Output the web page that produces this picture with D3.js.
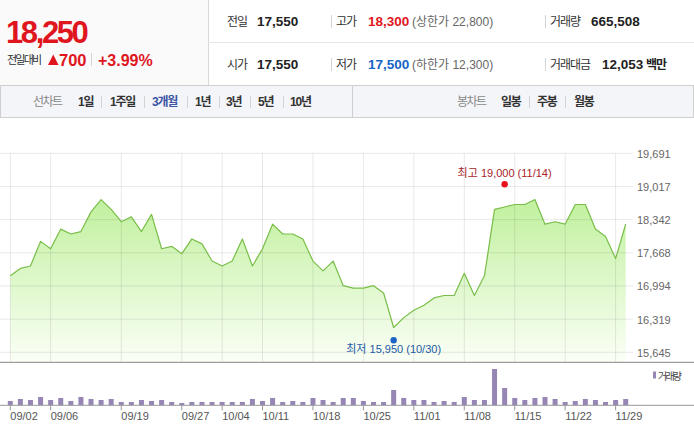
<!DOCTYPE html>
<html>
<head>
<meta charset="utf-8">
<script src="https://cdn.jsdelivr.net/npm/d3@7"></script>
<style>
  body { margin: 0; background: #fff; }
  svg { display: block; font-family: "Liberation Sans", "Noto Sans CJK KR", sans-serif; }
</style>
</head>
<body>
<div id="chart"></div>
<script>
// trading days shown on the 3 month chart
const DATES = [
  "09/02","09/03","09/04","09/05","09/06","09/09","09/10","09/11","09/16","09/17",
  "09/18","09/19","09/20","09/23","09/24","09/25","09/26","09/27","09/30","10/01",
  "10/02","10/04","10/07","10/08","10/10","10/11","10/14","10/15","10/16","10/17",
  "10/18","10/21","10/22","10/23","10/24","10/25","10/28","10/29","10/30","10/31",
  "11/01","11/04","11/05","11/06","11/07","11/08","11/11","11/12","11/13","11/14",
  "11/15","11/18","11/19","11/20","11/21","11/22","11/25","11/26","11/27","11/28",
  "11/29","12/02"
];

// closing prices
const CLOSES = [
  17200,17350,17400,17900,17750,18150,18050,18100,18500,18750,
  18550,18300,18400,18100,18450,17750,17800,17650,17950,17850,
  17500,17400,17500,17950,17400,17750,18250,18050,18050,17950,
  17500,17300,17500,17000,16950,16950,17000,16850,16150,16350,
  16500,16600,16750,16800,16800,17250,16800,17200,18550,18600,
  18650,18650,18750,18250,18300,18250,18650,18650,18150,18000,
  17550,18250
];

// daily volume
const VOLUMES = [
  452100,664800,561300,874200,558900,770500,455600,878300,667200,559400,
  663100,349800,346200,562700,451900,557800,347300,243600,350900,348100,
  345700,349200,347600,351800,662500,453300,772800,346400,454700,349100,
  769900,561200,347800,771600,768400,452900,349300,346800,1614200,773400,
  558700,562100,348200,454100,350600,876300,560400,557200,3831500,1826700,
  771900,559300,770200,877600,664300,348700,452600,668100,561800,347400,
  559900,665508
];

const Y_TICKS = [15645, 16319, 16994, 17668, 18342, 19017, 19691];
const X_TICKS = ["09/02","09/06","09/19","09/27","10/04","10/11","10/18","10/25","11/01","11/08","11/15","11/22","11/29"];

// period high / low
const HIGH = { label: "최고", value: 19000, date: "11/14" };
const LOW = { label: "최저", value: 15950, date: "10/30" };

// quote header
const PRICE = "18,250";
const CHANGE = "700";
const CHANGE_PCT = "+3.99%";
const ROW1 = [
  { label: "전일", value: "17,550", color: "#222" },
  { label: "고가", value: "18,300", color: "#e0161e", note: "(상한가 22,800)" },
  { label: "거래량", value: "665,508", color: "#222" }
];
const ROW2 = [
  { label: "시가", value: "17,550", color: "#222" },
  { label: "저가", value: "17,500", color: "#1564c6", note: "(하한가 12,300)" },
  { label: "거래대금", value: "12,053", color: "#222", unit: "백만" }
];
const LINE_MENU = ["1일", "1주일", "3개월", "1년", "3년", "5년", "10년"];
const CANDLE_MENU = ["일봉", "주봉", "월봉"];

const W = 694, H = 439;
const RED = "#e0161e";

const svg = d3.select("#chart").append("svg").attr("width", W).attr("height", H);

// ---------- header ----------
svg.append("rect").attr("x", 0).attr("y", 0).attr("width", 208).attr("height", 85).attr("fill", "#fafafa");
svg.append("line").attr("x1", 208.5).attr("x2", 208.5).attr("y1", 0).attr("y2", 85).attr("stroke", "#d9d9d9");
svg.append("line").attr("x1", 208).attr("x2", W).attr("y1", 42.5).attr("y2", 42.5).attr("stroke", "#e6e6e6");

svg.append("text").attr("x", 6).attr("y", 43)
  .attr("font-size", 31).attr("font-weight", "bold").attr("letter-spacing", -2.4)
  .attr("fill", RED).text(PRICE);

svg.append("text").attr("x", 7).attr("y", 64).attr("font-size", 11).attr("letter-spacing", -1.8)
  .attr("fill", "#333").text("전일대비");
svg.append("path").attr("d", "M48,65 L58.5,65 L53.25,54.5 Z").attr("fill", RED);
svg.append("text").attr("x", 59).attr("y", 65.5).attr("font-size", 16.5).attr("font-weight", "bold")
  .attr("fill", RED).text(CHANGE);
svg.append("line").attr("x1", 91.5).attr("x2", 91.5).attr("y1", 53).attr("y2", 66).attr("stroke", "#d5d5d5");
svg.append("text").attr("x", 98).attr("y", 65.5).attr("font-size", 16).attr("font-weight", "bold")
  .attr("fill", RED).text(CHANGE_PCT);

const colX = [227, 336, 550];
const valX = [257, 368, 591];
function drawRow(row, baseline) {
  row.forEach(function (d, i) {
    if (i > 0) {
      const sx = i === 1 ? 331 : 545;
      svg.append("line").attr("x1", sx + 0.5).attr("x2", sx + 0.5)
        .attr("y1", baseline - 11).attr("y2", baseline + 2).attr("stroke", "#d5d5d5");
    }
    svg.append("text").attr("x", colX[i]).attr("y", baseline).attr("font-size", 12)
      .attr("letter-spacing", -1).attr("fill", "#333").text(d.label);
    const vx = d.unit ? 602 : valX[i];
    svg.append("text").attr("x", vx).attr("y", baseline).attr("font-size", 13.5)
      .attr("font-weight", "bold").attr("fill", d.color).text(d.value);
    if (d.note) {
      svg.append("text").attr("x", 412).attr("y", baseline).attr("font-size", 12)
        .attr("fill", "#666").text(d.note);
    }
    if (d.unit) {
      svg.append("text").attr("x", 646).attr("y", baseline).attr("font-size", 12)
        .attr("font-weight", "bold").attr("letter-spacing", -1).attr("fill", "#222").text(d.unit);
    }
  });
}
drawRow(ROW1, 26);
drawRow(ROW2, 69);

// ---------- period menu bar ----------
svg.append("rect").attr("x", 0.5).attr("y", 85.5).attr("width", W - 1).attr("height", 32)
  .attr("fill", "#f4f5f8").attr("stroke", "#cfcfcf");
svg.append("line").attr("x1", 352.5).attr("x2", 352.5).attr("y1", 86).attr("y2", 117).attr("stroke", "#cfcfcf");

function drawMenu(title, titleX, items, itemX, sepX, active) {
  svg.append("text").attr("x", titleX).attr("y", 106).attr("font-size", 12)
    .attr("letter-spacing", -1.5).attr("fill", "#888").text(title);
  items.forEach(function (t, i) {
    svg.append("text").attr("x", itemX[i]).attr("y", 106).attr("font-size", 12)
      .attr("font-weight", "bold").attr("letter-spacing", -1.2)
      .attr("fill", t === active ? "#3b55a3" : "#333").text(t);
  });
  sepX.forEach(function (x) {
    svg.append("line").attr("x1", x + 0.5).attr("x2", x + 0.5).attr("y1", 96).attr("y2", 108)
      .attr("stroke", "#d3d3d3");
  });
}
drawMenu("선차트", 33, LINE_MENU, [78, 110, 152, 195, 226, 258, 290], [101, 144, 187, 219, 250, 283], "3개월");
drawMenu("봉차트", 457, CANDLE_MENU, [501, 537, 574], [529, 565], null);

// ---------- price chart ----------
const x = d3.scalePoint().domain(DATES).range([10.3, 625.7]);
const y = d3.scaleLinear().domain([15645, 19691]).range([352.3, 153.3]);
const vol = d3.scaleLinear().domain([0, 4540000]).range([405.3, 362.3]);
const plotBottom = 362.3;

const defs = svg.append("defs");
const grad = defs.append("linearGradient").attr("id", "fillGrad")
  .attr("gradientUnits", "userSpaceOnUse").attr("x1", 0).attr("x2", 0).attr("y1", 153).attr("y2", plotBottom);
grad.append("stop").attr("offset", "0%").attr("stop-color", "#b0ec84");
grad.append("stop").attr("offset", "100%").attr("stop-color", "#fbfff7");

const series = DATES.map((d, i) => ({ date: d, close: CLOSES[i], volume: VOLUMES[i] }));

svg.append("path").datum(series)
  .attr("fill", "url(#fillGrad)")
  .attr("d", d3.area().x(d => x(d.date)).y0(plotBottom).y1(d => y(d.close)));

// grid sits on top of the fill, like the original
svg.append("g").selectAll("line").data(Y_TICKS).join("line")
  .attr("x1", 0).attr("x2", 633).attr("y1", d => y(d)).attr("y2", d => y(d))
  .attr("stroke", "#000").attr("stroke-opacity", 0.09);
svg.append("g").selectAll("line").data(X_TICKS).join("line")
  .attr("x1", d => x(d)).attr("x2", d => x(d)).attr("y1", y(19691)).attr("y2", plotBottom)
  .attr("stroke", "#000").attr("stroke-opacity", 0.09);

svg.append("path").datum(series)
  .attr("fill", "none").attr("stroke", "#78be48").attr("stroke-width", 1.2)
  .attr("stroke-linejoin", "round")
  .attr("d", d3.line().x(d => x(d.date)).y(d => y(d.close)));

// y labels
svg.append("g").selectAll("text").data(Y_TICKS).join("text")
  .attr("x", 637).attr("y", d => y(d) + 4.5).attr("font-size", 11).attr("fill", "#666")
  .text(d => d3.format(",")(d));

// high / low markers
svg.append("circle").attr("cx", x(HIGH.date)).attr("cy", y(HIGH.value) - 3).attr("r", 3.2).attr("fill", "#e8101c");
svg.append("text").attr("x", x(HIGH.date)).attr("y", y(HIGH.value) - 10).attr("text-anchor", "middle")
  .attr("font-size", 11).attr("fill", "#a82228")
  .text(`${HIGH.label} ${d3.format(",")(HIGH.value)} (${HIGH.date})`);
svg.append("circle").attr("cx", x(LOW.date)).attr("cy", y(LOW.value) + 3).attr("r", 3.2).attr("fill", "#1f63c6");
svg.append("text").attr("x", x(LOW.date)).attr("y", y(LOW.value) + 16).attr("text-anchor", "middle")
  .attr("font-size", 11).attr("fill", "#1d5aa6")
  .text(`${LOW.label} ${d3.format(",")(LOW.value)} (${LOW.date})`);

svg.append("line").attr("x1", 0).attr("x2", W).attr("y1", plotBottom).attr("y2", plotBottom).attr("stroke", "#858585");

// ---------- volume ----------
svg.append("g").selectAll("rect").data(series).join("rect")
  .attr("x", d => x(d.date) - 2.5).attr("width", 5)
  .attr("y", d => vol(d.volume)).attr("height", d => vol(0) - vol(d.volume))
  .attr("fill", "#9586b6");

svg.append("line").attr("x1", 0).attr("x2", W).attr("y1", vol(0)).attr("y2", vol(0)).attr("stroke", "#999");

svg.append("rect").attr("x", 653).attr("y", 371.5).attr("width", 3).attr("height", 7).attr("fill", "#9586b6");
svg.append("text").attr("x", 658).attr("y", 379.5).attr("font-size", 10).attr("letter-spacing", -1.8)
  .attr("fill", "#444").text("거래량");

// x axis ticks and labels
svg.append("g").selectAll("line").data(X_TICKS).join("line")
  .attr("x1", d => x(d)).attr("x2", d => x(d)).attr("y1", vol(0)).attr("y2", vol(0) + 5)
  .attr("stroke", "#999");
svg.append("g").selectAll("text").data(X_TICKS).join("text")
  .attr("x", d => x(d)).attr("y", 420).attr("font-size", 11).attr("fill", "#555")
  .text(d => d);
</script>
</body>
</html>
